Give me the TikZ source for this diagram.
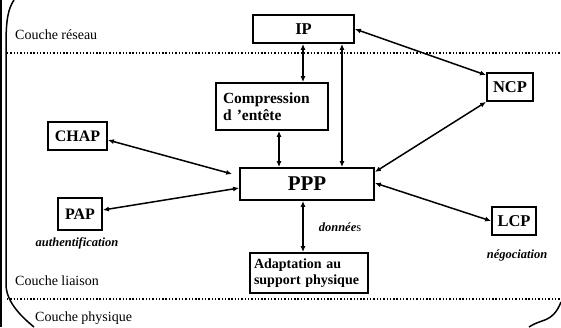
\documentclass[tikz,border=0pt]{standalone}
\usepackage{fontspec}
\setmainfont{Liberation Serif}
\usetikzlibrary{arrows.meta}
\begin{document}
\begin{tikzpicture}[x=1pt,y=-1pt,
  box/.style={draw,line width=1.8pt,inner sep=0pt,font=\bfseries},
  layer/.style={font=\fontsize{14}{16}\selectfont,anchor=west,inner sep=0pt},
  note/.style={font=\fontsize{12.5}{14}\selectfont\bfseries\itshape,inner sep=0pt},
  bus/.style={line width=2.6pt,{Latex[length=6pt,width=5pt]}-{Latex[length=6pt,width=5pt]}},
  link/.style={line width=1.5pt,{Latex[length=6pt,width=5pt]}-{Latex[length=6pt,width=5pt]}},
  sep/.style={line width=1.4pt,dash pattern=on 1.4pt off 1.9pt},
  frame/.style={line width=1.5pt}]
\useasboundingbox (0,0) rectangle (561,327);
\fill[white] (0,0) rectangle (561,327);

% outer frame
\draw[frame] (1,0) -- (1,327);
\draw[frame] (14,0) .. controls (8,9) and (6,20) .. (6,45) -- (6,284)
  .. controls (6,300) and (18,314) .. (34,327);
\draw[frame] (561,302) .. controls (557,312) and (552,318) .. (542,321)
  .. controls (536,323) and (532,325) .. (529,327);

% layer separators
\draw[sep] (7,53) -- (561,53);
\draw[sep] (7,299) -- (561,299);

% layer names
\node[layer] (lnet) at (15,35) {Couche réseau};
\node[layer] (llink) at (15,281) {Couche liaison};
\node[layer] (lphy) at (35,318) {Couche physique};

% protocol boxes
\node[box,minimum width=101pt,minimum height=28pt,font=\fontsize{16.5}{18}\selectfont\bfseries] (ip) at (303.5,29) {IP};
\node[box,minimum width=46pt,minimum height=28pt,font=\fontsize{16.5}{18}\selectfont\bfseries] (ncp) at (510,87) {NCP};
\node[box,minimum width=112pt,minimum height=47pt,text width=98pt,align=left,
  font=\fontsize{15.5}{17}\selectfont\bfseries] (cmp) at (272,106.5) {Compression\\d 'entête};
\node[box,minimum width=134pt,minimum height=32pt,font=\fontsize{21}{23}\selectfont\bfseries] (ppp) at (307,184) {PPP};
\node[box,minimum width=59pt,minimum height=28pt,font=\fontsize{16}{18}\selectfont\bfseries] (chap) at (77.5,136) {CHAP};
\node[box,minimum width=44pt,minimum height=32pt,font=\fontsize{16}{18}\selectfont\bfseries] (pap) at (80,214) {PAP};
\node[box,minimum width=44pt,minimum height=28pt,font=\fontsize{16.5}{18}\selectfont\bfseries] (lcp) at (514,221) {LCP};
\node[box,minimum width=118pt,minimum height=40pt,text width=110pt,align=left,
  font=\fontsize{14}{15.5}\selectfont\bfseries] (ada) at (309,273) {Adaptation au\\support physique};

% annotations
\node[note] (auth) at (77,243) {authentification};
\node[note] (data) at (340,227) {donnée{\mdseries\upshape s}};
\node[note] (nego) at (517,255) {négociation};

% vertical data paths
\draw[bus] ([xshift=-0.5pt]ip.south) -- ([xshift=-0.5pt]ip.south |- cmp.north);
\draw[bus] ([xshift=38.5pt]ip.south) -- ([xshift=38.5pt]ip.south |- ppp.north);
\draw[bus] ([xshift=7pt]cmp.south) -- ([xshift=7pt]cmp.south |- ppp.north);
\draw[bus] ([xshift=-4pt]ppp.south) -- ([xshift=-4pt]ppp.south |- ada.north);

% control links
\draw[link] (ip.east) -- ([yshift=-3pt]ncp.north west);
\draw[link] (ncp.south west) -- ([yshift=12pt]ppp.east);
\draw[link] ([yshift=1pt]ppp.east) -- (lcp.west);
\draw[link] ([yshift=-4pt]chap.east) -- ([xshift=-7pt,yshift=10pt]ppp.west);
\draw[link] ([yshift=4pt]pap.east) -- ([yshift=-4pt]ppp.west);
\end{tikzpicture}
\end{document}
